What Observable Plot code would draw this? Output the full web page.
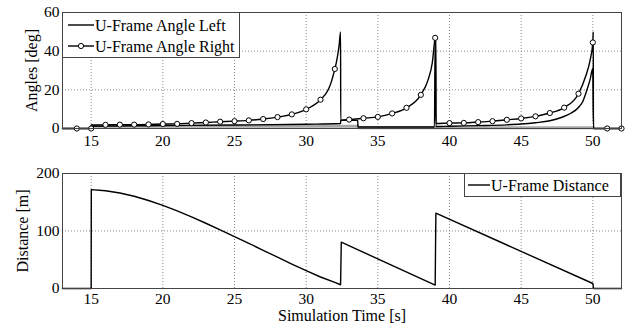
<!DOCTYPE html>
<html>
<head>
<meta charset="utf-8">
<script src="https://cdn.jsdelivr.net/npm/d3@7"></script>
<script src="https://cdn.jsdelivr.net/npm/@observablehq/plot@0.6"></script>
<style>
  html, body { margin: 0; padding: 0; background: white; }
  #chart { position: relative; width: 625px; height: 324px; font-family: "Liberation Serif", "DejaVu Serif", serif; }
  #chart > svg { position: absolute; left: 0; }
  #chart svg text { font-family: "Liberation Serif", serif !important; }
</style>
</head>
<body>
<div id="chart"></div>
<script>
// ---- Data ----
const xTicks = [15, 20, 25, 30, 35, 40, 45, 50];
const angleTicks = [0, 20, 40, 60];
const distTicks = [0, 100, 200];

// U-Frame Angle Right (line samples)
const rightT = [13, 15, 15.01, 16, 17, 18, 19, 20, 21, 22, 23, 24, 25, 26, 27, 28, 29, 30, 31, 31.5, 31.75, 32, 32.1, 32.2, 32.3, 32.4,
  32.41, 33, 34, 35, 36, 37, 38, 38.5, 38.8, 39, 39.05,
  39.06, 40, 41, 42, 43, 44, 45, 46, 47, 48, 49, 49.5, 49.8, 50, 50.03, 50.04, 52];
const rightV = [0, 0, 1.8, 1.9, 2.0, 2.0, 2.1, 2.3, 2.4, 2.8, 3.1, 3.5, 3.8, 4.2, 4.9, 5.9, 7.3, 9.9, 14.9, 19.5, 24, 30.8, 34, 38, 43, 50,
  4.3, 4.6, 5.3, 6.0, 7.8, 10.7, 17.4, 25, 34, 46.9, 48,
  2.6, 2.8, 2.9, 3.3, 3.8, 4.5, 5.2, 6.3, 8.0, 10.8, 18.0, 27, 35, 44.5, 50, 0, 0];

// U-Frame Angle Right (circle markers, every second)
const markT = [14, 15, 16, 17, 18, 19, 20, 21, 22, 23, 24, 25, 26, 27, 28, 29, 30, 31, 32, 33, 34, 35, 36, 37, 38, 39, 40, 41, 42, 43, 44, 45, 46, 47, 48, 49, 50, 51, 52];
const markV = [0, 0, 1.9, 2.0, 2.0, 2.1, 2.3, 2.4, 2.8, 3.1, 3.5, 3.8, 4.2, 4.9, 5.9, 7.3, 9.9, 14.9, 30.8, 4.6, 5.3, 6.0, 7.8, 10.7, 17.4, 46.9, 2.8, 2.9, 3.3, 3.8, 4.5, 5.2, 6.3, 8.0, 10.8, 18.0, 44.5, 0, 0];

// U-Frame Angle Left
const leftT = [13, 15, 15.01, 20, 25, 30, 32.4, 32.41, 33.6, 33.61, 38.95, 39.0, 39.05, 40, 42, 44, 45, 46, 47, 47.8, 48.5, 49, 49.3, 49.57, 49.8, 50, 50.05, 52];
const leftV = [0, 0, 1.2, 1.5, 1.8, 2.2, 2.6, 4.2, 4.2, 0.8, 0.8, 46, 1.0, 1.2, 1.5, 1.9, 2.3, 3.0, 4.0, 5.7, 8.0, 10.9, 14, 19.5, 25, 31, 0, 0];

// faint grey trace near zero
const greyT = [15, 33.6, 33.61, 50];
const greyV = [1.2, 1.2, 0.4, 0.4];

// U-Frame Distance
const distT = [13, 15, 15.01, 16, 17, 18, 19, 20, 21, 22, 23, 24, 25, 26, 27, 28, 29, 30, 31, 32, 32.4,
  32.45, 39.0, 39.05, 50.0, 50.05, 52];
const distV = [0, 0, 172, 170, 166, 160.5, 153, 144.6, 135, 124.5, 113.5, 102, 90.4, 78.5, 66.5, 54.5, 42.5, 31, 20, 10.5, 6.5,
  80.5, 6, 131, 8.7, 0, 0];

// ---- Build tables ----
const zip = (t, v) => t.map((x, i) => ({t: x, v: v[i]}));
const rightLine = zip(rightT, rightV);
const rightMarks = zip(markT, markV);
const leftLine = zip(leftT, leftV);
const greyLine = zip(greyT, greyV);
const distLine = zip(distT, distV);

const FONT = "Liberation Serif";
const gridStyle = {stroke: "#8a8a8a", strokeOpacity: 1, strokeDasharray: "1,2", strokeWidth: 1};
const axisOpts = {tickSize: 0, label: null, fontSize: 15.5, fontFamily: FONT, fill: "black"};

const common = {
  width: 625,
  marginLeft: 62,
  marginRight: 4,
  style: "font-family: 'Liberation Serif', serif; font-size: 16px; background: white; color: black; overflow: visible;",
  x: {domain: [13, 52]}
};

const topPlot = Plot.plot({
  ...common,
  height: 150,
  marginTop: 12,
  marginBottom: 22,
  y: {domain: [0, 60]},
  marks: [
    Plot.gridX(xTicks, gridStyle),
    Plot.gridY(angleTicks, gridStyle),
    Plot.axisX(xTicks, {...axisOpts, tickPadding: 6}),
    Plot.axisY(angleTicks, {...axisOpts, tickPadding: 3}),
    Plot.line(greyLine, {x: "t", y: "v", stroke: "#a8a8a8", strokeWidth: 3}),
    Plot.line(leftLine, {x: "t", y: "v", stroke: "black", strokeWidth: 1.4, curve: "monotone-x"}),
    Plot.line(rightLine, {x: "t", y: "v", stroke: "black", strokeWidth: 1.4, curve: "monotone-x"}),
    Plot.dot(rightMarks, {x: "t", y: "v", r: 2.6, stroke: "black", fill: "white", strokeWidth: 1}),
    Plot.frame({stroke: "#444"}),
    Plot.text(["Angles [deg]"], {frameAnchor: "left", textAnchor: "middle", dx: -31, rotate: -90, fontSize: 16, fontFamily: FONT, fill: "black", lineAnchor: "middle"})
  ]
});

const bottomPlot = Plot.plot({
  ...common,
  height: 174,
  marginTop: 23,
  marginBottom: 36,
  y: {domain: [0, 200]},
  marks: [
    Plot.gridX(xTicks, gridStyle),
    Plot.gridY(distTicks, gridStyle),
    Plot.axisX(xTicks, {...axisOpts, tickPadding: 4}),
    Plot.axisY(distTicks, {...axisOpts, tickPadding: 3}),
    Plot.line(distLine, {x: "t", y: "v", stroke: "black", strokeWidth: 1.4}),
    Plot.frame({stroke: "#444"}),
    Plot.text(["Distance [m]"], {frameAnchor: "left", textAnchor: "middle", dx: -40, rotate: -90, fontSize: 16, fontFamily: FONT, fill: "black", lineAnchor: "middle"}),
    Plot.text(["Simulation Time [s]"], {frameAnchor: "bottom", dy: 27, fontSize: 16, fontFamily: FONT, fill: "black", lineAnchor: "middle"})
  ]
});

const chart = document.getElementById("chart");
topPlot.style.top = "0px";
bottomPlot.style.top = "150px";
chart.appendChild(topPlot);
chart.appendChild(bottomPlot);

// ---- Legends ----
const NS = "http://www.w3.org/2000/svg";
function legend(left, topPx, w, h, items) {
  const svg = document.createElementNS(NS, "svg");
  svg.setAttribute("width", w);
  svg.setAttribute("height", h);
  svg.style.left = left + "px";
  svg.style.top = topPx + "px";
  svg.style.position = "absolute";
  const rect = document.createElementNS(NS, "rect");
  rect.setAttribute("x", 0.5); rect.setAttribute("y", 0.5);
  rect.setAttribute("width", w - 1); rect.setAttribute("height", h - 1);
  rect.setAttribute("fill", "white"); rect.setAttribute("stroke", "#444");
  svg.appendChild(rect);
  items.forEach(it => {
    const ln = document.createElementNS(NS, "line");
    ln.setAttribute("x1", it.x1); ln.setAttribute("x2", it.x2);
    ln.setAttribute("y1", it.y); ln.setAttribute("y2", it.y);
    ln.setAttribute("stroke", "black"); ln.setAttribute("stroke-width", 1.4);
    svg.appendChild(ln);
    if (it.marker) {
      const c = document.createElementNS(NS, "circle");
      c.setAttribute("cx", (it.x1 + it.x2) / 2); c.setAttribute("cy", it.y);
      c.setAttribute("r", 2.6); c.setAttribute("fill", "white"); c.setAttribute("stroke", "black");
      svg.appendChild(c);
    }
    const tx = document.createElementNS(NS, "text");
    tx.setAttribute("x", it.x2 + 1); tx.setAttribute("y", it.y);
    tx.setAttribute("dy", "0.35em");
    tx.setAttribute("font-family", FONT); tx.setAttribute("font-size", 16);
    tx.textContent = it.label;
    svg.appendChild(tx);
  });
  chart.appendChild(svg);
}
legend(62, 12, 178, 46, [
  {label: "U-Frame Angle Left", x1: 6, x2: 32, y: 13, marker: false},
  {label: "U-Frame Angle Right", x1: 6, x2: 32, y: 34, marker: true}
]);
legend(464, 173, 157, 24, [
  {label: "U-Frame Distance", x1: 4, x2: 26, y: 12, marker: false}
]);
</script>
</body>
</html>
